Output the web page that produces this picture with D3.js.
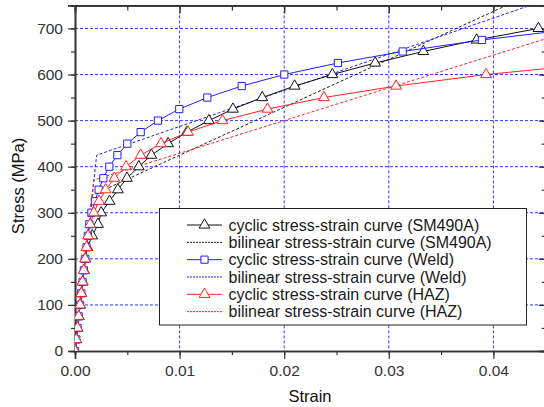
<!DOCTYPE html>
<html>
<head>
<meta charset="utf-8">
<script src="https://cdn.jsdelivr.net/npm/d3@7"></script>
<style>
  body { margin: 0; background: #fff; }
  svg { display: block; font-family: "Liberation Sans", Arial, sans-serif; }
</style>
</head>
<body>
<script>
// stress levels (MPa) and the strains
var stressSM = [0,25,50,75,100,125,150,175,200,225,250,275,300,325,350,375,400,425,450,475,500,525,550,575,600,625,650,675,700];
var strainSM = [0,0.00012,0.00024,0.00037,0.00049,0.00061,0.00074,0.00087,0.001,0.00118,0.00165,0.0022,0.0025,0.0033,0.0041,0.00497,0.0061,0.0073,0.0089,0.0107,0.0128,0.0151,0.0179,0.021,0.0246,0.0287,0.0333,0.0384,0.0443];

var stressWeld = [0,25,50,75,100,125,150,175,200,225,250,275,300,325,350,375,400,425,450,475,500,525,550,575,600,625,650,675,700];
var strainWeld = [0,0.00012,0.00024,0.00036,0.00048,0.0006,0.00073,0.00085,0.00098,0.0011,0.00123,0.00137,0.00157,0.0019,0.00226,0.00271,0.00328,0.00405,0.005,0.00628,0.00793,0.00997,0.01265,0.01594,0.02001,0.02514,0.03133,0.03891,0.0482];

var stressHAZ = [0,25,50,75,100,125,150,175,200,225,250,275,300,325,350,375,400,425,450,475,500,525,550,575,600,625];
var strainHAZ = [0,0.00012,0.00024,0.00036,0.00048,0.0006,0.00072,0.00084,0.00097,0.0011,0.00125,0.00145,0.0018,0.0023,0.00293,0.00376,0.00488,0.00628,0.00822,0.0108,0.0141,0.0184,0.0238,0.0307,0.0393,0.0505];

// bilinear models: origin, yield knee, far end
var biStrainSM = [0, 0.00165, 0.05];
var biStressSM = [0, 338, 841];
var biStrainWeld = [0, 0.00207, 0.05];
var biStressWeld = [0, 425, 801];
var biStrainHAZ = [0, 0.00181, 0.05];
var biStressHAZ = [0, 371, 713];

var xTicks = [0, 0.01, 0.02, 0.03, 0.04];
var yTicks = [0, 100, 200, 300, 400, 500, 600, 700];

var legendLabels = [
  "cyclic stress-strain curve (SM490A)",
  "bilinear stress-strain curve (SM490A)",
  "cyclic stress-strain curve (Weld)",
  "bilinear stress-strain curve (Weld)",
  "cyclic stress-strain curve (HAZ)",
  "bilinear stress-strain curve (HAZ)"
];

var width = 544, height = 407;
var pL = 75, pR = 545.7, pT = 5.4, pB = 351;

var svg = d3.select('body').append('svg')
  .attr('width', width).attr('height', height);

var x = d3.scaleLinear().domain([0, 0.045]).range([pL, pR]);
var y = d3.scaleLinear().domain([0, 750]).range([pB, pT]);

svg.append('clipPath').attr('id', 'clip')
  .append('rect').attr('x', pL).attr('y', pT)
  .attr('width', pR - pL).attr('height', pB - pT);

// grid
var gridColor = '#3535ff';
svg.append('g').selectAll('line').data(xTicks.slice(1)).join('line')
  .attr('x1', d => x(d)).attr('x2', d => x(d))
  .attr('y1', pT).attr('y2', pB)
  .attr('stroke', gridColor).attr('stroke-dasharray', '3,2');
svg.append('g').selectAll('line').data(yTicks.slice(1)).join('line')
  .attr('x1', pL).attr('x2', pR)
  .attr('y1', d => y(d)).attr('y2', d => y(d))
  .attr('stroke', gridColor).attr('stroke-dasharray', '3,2');

// axes
var axColor = '#333';
var xMinor = d3.range(0, 0.0451, 0.005);
var yMinor = d3.range(0, 751, 50);

var bottomAxis = svg.append('g').attr('transform', 'translate(0,' + pB + ')');
bottomAxis.call(d3.axisBottom(x).tickValues(xMinor).tickSize(4).tickFormat(''));
bottomAxis.append('g').call(d3.axisBottom(x).tickValues(xTicks).tickSize(8).tickPadding(6).tickFormat(d3.format('.2f')));

var topAxis = svg.append('g').attr('transform', 'translate(0,' + pT + ')');
topAxis.call(d3.axisBottom(x).tickValues(xMinor).tickSize(5).tickFormat(''));
topAxis.append('g').call(d3.axisBottom(x).tickValues(xTicks).tickSize(8).tickFormat(''));

var leftAxis = svg.append('g').attr('transform', 'translate(' + pL + ',0)');
leftAxis.call(d3.axisLeft(y).tickValues(yMinor).tickSize(4).tickFormat(''));
leftAxis.append('g').call(d3.axisLeft(y).tickValues(yTicks).tickSize(7).tickPadding(5));

var rightAxis = svg.append('g').attr('transform', 'translate(' + pR + ',0)');
rightAxis.call(d3.axisLeft(y).tickValues(yMinor).tickSize(4).tickFormat(''));
rightAxis.append('g').call(d3.axisLeft(y).tickValues(yTicks).tickSize(7).tickFormat(''));

svg.selectAll('.domain').attr('stroke', axColor).attr('stroke-width', 1.6);
svg.selectAll('.tick line').attr('stroke', axColor).attr('stroke-width', 1.2);
svg.selectAll('.tick text').attr('fill', '#333').style('font-size', '15.5px')
  .style('font-family', '"Liberation Sans", Arial, sans-serif');

// axis titles
svg.append('text').attr('x', 310).attr('y', 402)
  .attr('text-anchor', 'middle').style('font-size', '16.5px').attr('fill', '#111')
  .text('Strain');
svg.append('text').attr('transform', 'translate(24,186) rotate(-90)')
  .attr('text-anchor', 'middle').style('font-size', '16.5px').attr('fill', '#111')
  .text('Stress (MPa)');

// curves
var plot = svg.append('g').attr('clip-path', 'url(#clip)');
var line = d3.line().x(d => x(d[0])).y(d => y(d[1]));

var black = '#111', blue = '#1f1fff', red = '#ff2222';
var triangle = d3.symbol().type(d3.symbolTriangle).size(50);
var square = d3.symbol().type(d3.symbolSquare).size(52);

function bilinear(strains, stresses, color) {
  plot.append('path').datum(d3.zip(strains, stresses))
    .attr('d', line).attr('fill', 'none')
    .attr('stroke', color).attr('stroke-width', 1).attr('stroke-dasharray', '3,2');
}
function cyclic(strains, stresses, color, sym) {
  var pts = d3.zip(strains, stresses);
  plot.append('path').datum(pts)
    .attr('d', line).attr('fill', 'none')
    .attr('stroke', color).attr('stroke-width', 1);
  plot.append('g').selectAll('path').data(pts).join('path')
    .attr('d', sym)
    .attr('transform', d => 'translate(' + x(d[0]) + ',' + y(d[1]) + ')')
    .attr('fill', 'white').attr('stroke', color).attr('stroke-width', 1);
}

bilinear(biStrainSM, biStressSM, '#222');
bilinear(biStrainWeld, biStressWeld, blue);
bilinear(biStrainHAZ, biStressHAZ, red);
cyclic(strainSM, stressSM, black, triangle);
cyclic(strainWeld, stressWeld, blue, square);
cyclic(strainHAZ, stressHAZ, red, triangle);

// legend
var lg = svg.append('g');
lg.append('rect').attr('x', 159.5).attr('y', 208.5).attr('width', 367).attr('height', 116.5)
  .attr('fill', 'white').attr('stroke', '#222').attr('stroke-width', 1);
var legColors = [black, '#222', blue, blue, red, red];
var legMarks = [triangle, null, square, null, triangle, null];
var rows = lg.selectAll('g.row').data(legendLabels).join('g')
  .attr('transform', (d, i) => 'translate(0,' + (225 + i * 17.33) + ')');
rows.append('line').attr('x1', 187).attr('x2', 222)
  .attr('stroke', (d, i) => legColors[i]).attr('stroke-width', 1)
  .attr('stroke-dasharray', (d, i) => legMarks[i] ? null : '2,1');
rows.filter((d, i) => legMarks[i]).append('path')
  .attr('d', d => legMarks[legendLabels.indexOf(d)]())
  .attr('transform', 'translate(204.5,0)')
  .attr('fill', 'white').attr('stroke', d => legColors[legendLabels.indexOf(d)]);
rows.append('text').attr('x', 228.5).attr('dy', '0.36em')
  .style('font-size', '16px').attr('fill', '#1a1a1a')
  .text(d => d);
</script>
</body>
</html>
